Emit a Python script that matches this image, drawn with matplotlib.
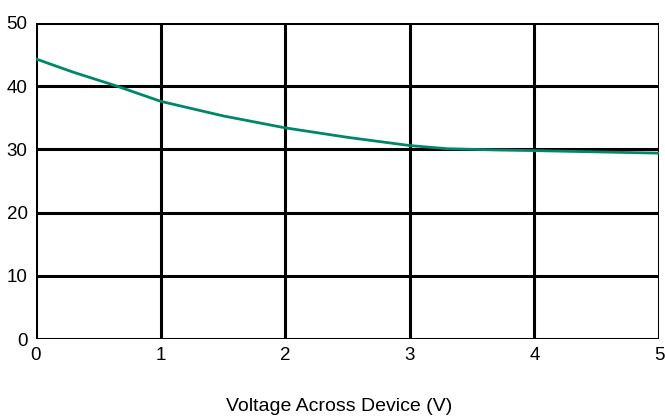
import matplotlib
matplotlib.use('Agg')
import matplotlib.pyplot as plt

plt.rcParams['font.family'] = ['Liberation Sans', 'DejaVu Sans']

voltage = [0, 0.3, 0.65, 1.0, 1.5, 2.0, 2.5, 3.0, 3.3, 3.7, 4.0, 4.5, 5.0]
current = [44.3, 42.2, 40.0, 37.6, 35.3, 33.4, 31.9, 30.6, 30.1, 29.9, 29.8, 29.6, 29.4]
xticks = [0, 1, 2, 3, 4, 5]
yticks = [0, 10, 20, 30, 40, 50]

fig = plt.figure(figsize=(6.65, 4.16), dpi=100)
ax = fig.add_axes([0.054, 0.185, 0.937, 0.76])

for t in xticks:
    ax.axvline(t, color='black', lw=2.2, zorder=1)
for t in yticks:
    ax.axhline(t, color='black', lw=2.2, zorder=1)

ax.plot(voltage, current, color='#00876a', lw=2, zorder=3)

ax.set_xlim(0, 5)
ax.set_ylim(0, 50)
ax.set_xticks(xticks)
ax.set_yticks(yticks)
for s in ax.spines.values():
    s.set_visible(False)
ax.tick_params(length=0, labelsize=13.5, pad=6)

# axis title sits near the bottom edge of the figure
fig.text(0.51, 0.024, 'Voltage Across Device (V)', fontsize=14,
         ha='center', va='center')

fig.savefig('out.png', dpi=100)
